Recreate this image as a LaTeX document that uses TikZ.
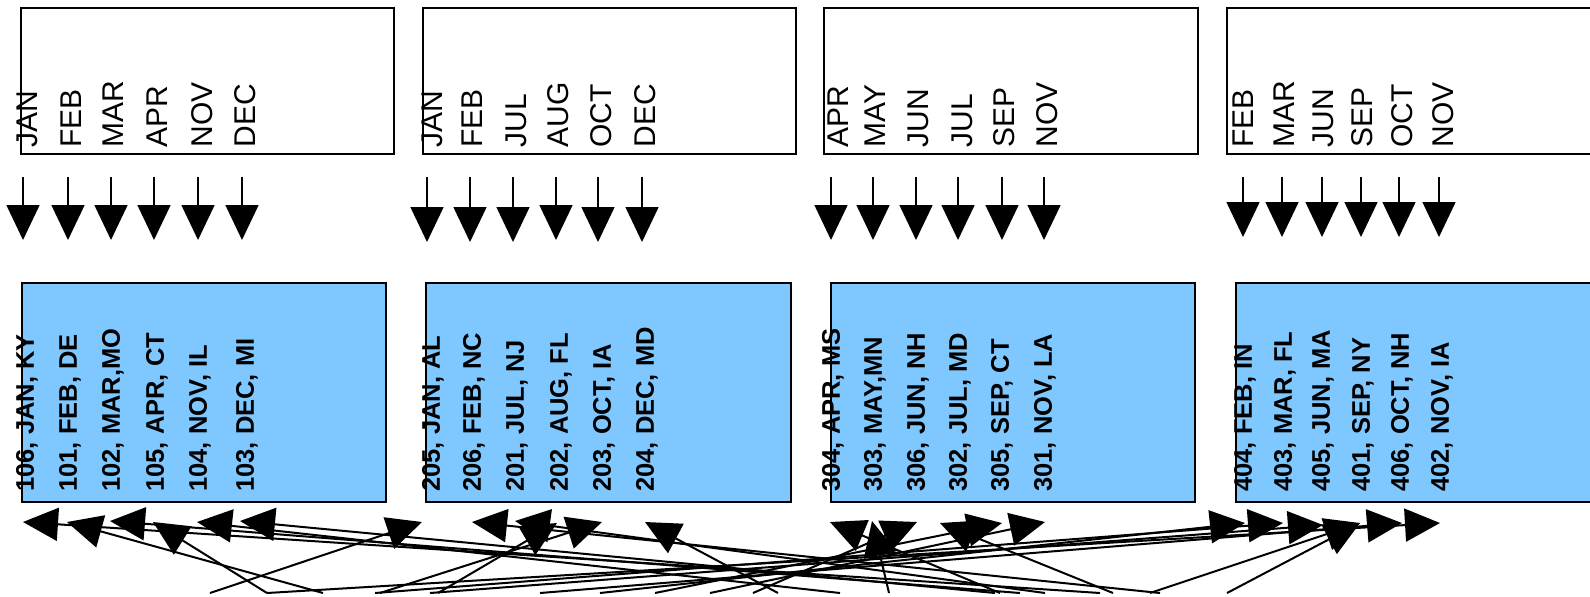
\documentclass[tikz,border=0pt]{standalone}
\usepackage{fontspec}
\setmainfont{Liberation Sans}
\usetikzlibrary{arrows.meta}
\definecolor{boxblue}{RGB}{127,199,255}
\begin{document}
\begin{tikzpicture}[x=0.5pt,y=-0.5pt,
  topbox/.style={draw=black, line width=1pt, fill=white, rectangle, inner sep=0pt, anchor=north west, minimum height=73pt},
  bluebox/.style={draw=black, line width=1pt, fill=boxblue, rectangle, inner sep=0pt, anchor=north west, minimum height=109.5pt},
  month/.style={rotate=90, anchor=west, inner sep=0pt, font=\fontsize{15}{18}\selectfont},
  lab/.style={rotate=90, anchor=west, inner sep=0pt, font=\fontsize{12.75}{15}\selectfont\bfseries},
  toparrow/.style={line width=0.75pt, -{Triangle[length=17.5pt, width=16.5pt]}},
  botarrow/.style={line width=1pt, -{Triangle[length=17.5pt, width=16.5pt]}}
]
\clip (0,0) rectangle (1590,596);
\fill[white] (0,0) rectangle (1590,596);

% top boxes
\node[topbox, minimum width=186.5pt] (t1) at (20,7) {};
\node[topbox, minimum width=186.5pt] (t2) at (422,7) {};
\node[topbox, minimum width=187pt] (t3) at (823,7) {};
\node[topbox, minimum width=200pt] (t4) at (1226,7) {};

% month labels
\foreach \n/\x/\t in {a1/27/JAN,a2/71/FEB,a3/113/MAR,a4/157/APR,a5/202/NOV,a6/245/DEC,
  b1/432/JAN,b2/472/FEB,b3/516/JUL,b4/558/AUG,b5/601/OCT,b6/645/DEC,
  c1/838/APR,c2/875/MAY,c3/918/JUN,c4/962/JUL,c5/1004/SEP,c6/1047/NOV,
  d1/1243/FEB,d2/1284/MAR,d3/1323/JUN,d4/1362/SEP,d5/1402/OCT,d6/1443/NOV}
  {\node[month] (m\n) at (\x,148) {\t};}

% top arrows
\foreach \n/\x/\y in {a1/23/240,a2/68/240,a3/111/240,a4/154/240,a5/198/240,a6/242/240,
  b1/427/242,b2/470/242,b3/513/242,b4/556/240,b5/598/242,b6/642/242,
  c1/831/240,c2/873/240,c3/916/240,c4/958/240,c5/1002/240,c6/1044/240,
  d1/1243/237,d2/1282/237,d3/1322/237,d4/1361/237,d5/1399/237,d6/1439/237}
  {\coordinate (ua\n) at (\x,177); \coordinate (ub\n) at (\x,\y);
   \draw[toparrow] (ua\n) -- (ub\n);}

% blue boxes
\node[bluebox, minimum width=182pt] (b1) at (21,282) {};
\node[bluebox, minimum width=182.5pt] (b2) at (425,282) {};
\node[bluebox, minimum width=182pt] (b3) at (830,282) {};
\node[bluebox, minimum width=200pt] (b4) at (1235,282) {};

% blue labels
\foreach \n/\x/\t in {a1/27/{106, JAN, KY},a2/70/{101, FEB, DE},a3/113/{102, MAR,MO},a4/157/{105, APR, CT},a5/200/{104, NOV, IL},a6/247/{103, DEC, MI},
  b1/433/{205, JAN, AL},b2/474/{206, FEB, NC},b3/517/{201, JUL, NJ},b4/561/{202, AUG, FL},b5/604/{203, OCT, IA},b6/647/{204, DEC, MD},
  c1/833/{304, APR, MS},c2/875/{303, MAY,MN},c3/918/{306, JUN, NH},c4/960/{302, JUL, MD},c5/1002/{305, SEP, CT},c6/1045/{301, NOV, LA},
  d1/1245/{404, FEB, IN},d2/1285/{403, MAR, FL},d3/1323/{405, JUN, MA},d4/1363/{401, SEP, NY},d5/1402/{406, OCT, NH},d6/1442/{402, NOV, IA}}
  {\node[lab] (l\n) at (\x,492) {\t};}

% bottom tangle
\foreach \n/\sx/\tx/\ty in {a1/1100/23/522,a2/323/67/522,a3/1020/110/521,a4/267/153/522,
  a5/840/197/522,a6/995/240/521,a7/210/422/522,
  b1/1160/472/522,b2/1045/515/521,b3/438/557/523,b4/380/602/522,b5/778/645/522,
  c1/1000/830/522,c2/889/872/521,c3/753/917/522,c4/1113/940/523,c5/655/1002/523,c6/710/1045/522,
  d1/600/1245/523,d2/375/1283/523,d3/430/1323/525,d4/1150/1360/523,d5/1227/1360/523,
  d6/540/1402/523,d7/267/1440/523}
  {\coordinate (s\n) at (\sx,593); \coordinate (e\n) at (\tx,\ty);
   \draw[botarrow] (s\n) -- (e\n);}
\end{tikzpicture}
\end{document}
